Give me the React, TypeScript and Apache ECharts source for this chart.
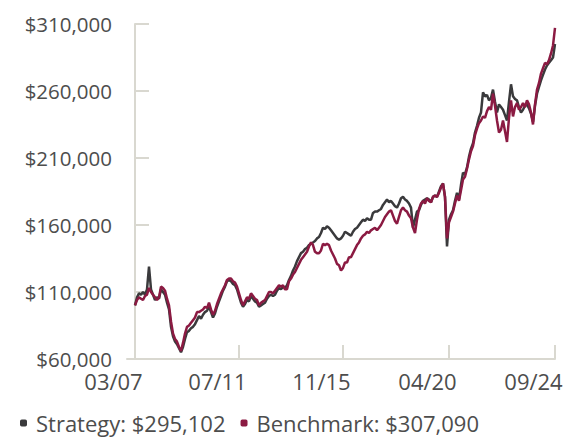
import React, { useEffect, useRef } from "react";
import * as echarts from "echarts";

// Monthly, 03/2007 .. 09/2024 (values in thousands of dollars)
const START_YEAR = 2007;
const START_MONTH = 3;

const strategy: number[] = [
  100, 106, 109, 108, 110, 108, 112, 129, 112, 108,
  104, 106, 105, 112, 110, 108, 102, 97, 84, 77,
  73, 71, 68, 65, 69, 75, 80, 81, 83, 84,
  86, 89, 92, 90, 93, 95, 96, 99, 95, 91,
  94, 99, 103, 107, 111, 114, 118, 119, 118, 116,
  115, 112, 107, 102, 99, 101, 104, 103, 107, 105,
  103, 102, 99, 100, 101, 102, 105, 107, 108, 107,
  108, 111, 113, 112, 114, 113, 115, 119, 122, 126,
  129, 133, 136, 139, 140, 142, 143, 145, 146, 147,
  148, 150, 151, 154, 158, 157, 159, 158, 156, 154,
  152, 150, 149, 150, 152, 155, 154, 153, 152, 155,
  157, 158, 160, 162, 164, 163, 165, 164, 164, 169,
  170, 170, 171, 172, 175, 177, 179, 177, 178, 176,
  174, 173, 176, 180, 181, 179, 178, 176, 173, 158,
  164, 170, 171, 175, 178, 179, 180, 179, 177, 181,
  182, 181, 185, 189, 191, 181, 144, 164, 168, 171,
  178, 184, 179, 190, 199, 198, 203, 211, 217, 221,
  229, 234, 240, 244, 259, 256, 257, 253, 255, 261,
  252, 244, 250, 248, 246, 242, 238, 252, 265, 256,
  254, 253, 248, 244, 246, 249, 250, 247, 243, 237,
  249, 258, 263, 268, 272, 276, 279, 281, 283, 285,
  295.102,
];

const benchmark: number[] = [
  100, 104, 106, 105, 104, 107, 108, 113, 110, 108,
  106, 104, 106, 114, 113, 111, 105, 100, 88, 79,
  75, 73, 69, 66, 72, 79, 84, 85, 87, 89,
  91, 95, 95, 96, 97, 99, 98, 102, 97, 93,
  96, 101, 105, 109, 112, 115, 119, 120, 120, 118,
  117, 114, 109, 104, 100, 103, 106, 105, 109, 107,
  105, 104, 100, 102, 103, 104, 107, 110, 110, 109,
  111, 113, 115, 114, 115, 112, 112, 118, 120, 123,
  125, 128, 131, 134, 136, 138, 140, 144, 147, 145,
  140, 139, 139, 141, 146, 145, 146, 145, 141, 138,
  135, 131, 130, 126, 128, 132, 132, 136, 136, 139,
  142, 145, 147, 150, 152, 153, 155, 154, 156, 157,
  158, 156, 158, 160, 163, 166, 168, 170, 171, 167,
  163, 161, 166, 171, 173, 171, 170, 167, 165, 158,
  154, 164, 172, 176, 178, 176, 180, 178, 177, 181,
  182, 181, 184, 188, 191, 181, 150, 162, 166, 170,
  176, 182, 178, 186, 194, 196, 202, 209, 215, 219,
  227, 232, 236, 238, 241, 240, 245, 248, 246, 258,
  249, 238, 229, 231, 238, 230, 222, 240, 253, 241,
  248, 251, 246, 248, 251, 248, 253, 250, 244, 235,
  250, 261, 266, 273, 277, 281, 280, 283, 288, 294,
  307.09,
];

const seriesNames: string[] = ["Strategy", "Benchmark"];
const seriesColors: string[] = ["#3a3a3c", "#8b1a42"];
const xTickLabels: string[] = ["03/07", "07/11", "11/15", "04/20", "09/24"];
const yTicks: number[] = [60000, 110000, 160000, 210000, 260000, 310000];

const months: string[] = strategy.map((_, i) => {
  const m0 = START_MONTH - 1 + i;
  const y = START_YEAR + Math.floor(m0 / 12);
  const m = (m0 % 12) + 1;
  return `${String(m).padStart(2, "0")}/${String(y % 100).padStart(2, "0")}`;
});
const xTickIdx: number[] = xTickLabels.map((l) => months.indexOf(l));

const fmtMoney = (v: number) => "$" + Math.round(v).toLocaleString("en-US");

export default function App() {
  const ref = useRef<HTMLDivElement>(null);
  useEffect(() => {
    if (!ref.current) return;
    const chart = echarts.init(ref.current, null, { renderer: "svg" });
    const lists = [strategy, benchmark];
    const lastVals: Record<string, number> = {};
    seriesNames.forEach((n, k) => {
      const arr = lists[k];
      lastVals[n] = arr[arr.length - 1] * 1000;
    });
    const font = "Open Sans";
    const textColor = "#4d4d4d";
    const axisColor = "#d9d8d0";
    chart.setOption({
      animation: false,
      backgroundColor: "#ffffff",
      grid: {
        left: 127,
        right: 21,
        top: 24,
        bottom: 79,
        containLabel: false,
        outerBoundsMode: "none",
      },
      xAxis: {
        type: "value",
        min: -4,
        max: months.length - 1,
        splitLine: { show: false },
        axisLine: { show: true, lineStyle: { color: axisColor, width: 2 } },
        axisTick: {
          show: true,
          inside: true,
          length: 14,
          customValues: xTickIdx,
          lineStyle: { color: axisColor, width: 2 },
        },
        axisLabel: {
          customValues: xTickIdx,
          formatter: (v: number) => months[Math.round(v)] ?? "",
          color: textColor,
          fontFamily: font,
          fontSize: 22,
          lineHeight: 18,
          margin: 13,
          padding: [0, 43, 0, 0],
          hideOverlap: false,
        },
      },
      yAxis: {
        type: "value",
        min: 60000,
        max: 310000,
        splitLine: { show: false },
        axisLine: { show: true, lineStyle: { color: axisColor, width: 2 } },
        axisTick: {
          show: true,
          inside: true,
          length: 14,
          customValues: yTicks,
          lineStyle: { color: axisColor, width: 2 },
        },
        axisLabel: {
          customValues: yTicks,
          formatter: (v: number) => fmtMoney(v),
          color: textColor,
          fontFamily: font,
          fontSize: 20.5,
          lineHeight: 16,
          margin: 15,
        },
      },
      legend: {
        show: true,
        left: 15,
        top: 407,
        itemWidth: 7,
        itemHeight: 7,
        itemGap: 15,
        icon: "roundRect",
        textStyle: {
          color: textColor,
          fontFamily: font,
          fontSize: 22,
          padding: [0, 0, 0, 4],
        },
        formatter: (name: string) => `${name}: ${fmtMoney(lastVals[name])}`,
        data: seriesNames,
      },
      series: seriesNames.map((n, k) => ({
        name: n,
        type: "line",
        showSymbol: false,
        symbol: "none",
        z: 2 + k,
        color: seriesColors[k],
        lineStyle: { color: seriesColors[k], width: 2.5 },
        data: lists[k].map((v, i) => [i, v * 1000]),
      })),
    });
    return () => chart.dispose();
  }, []);
  return (
    <div
      ref={ref}
      style={{ position: "fixed", left: 0, top: 0, width: 576, height: 438 }}
    />
  );
}
